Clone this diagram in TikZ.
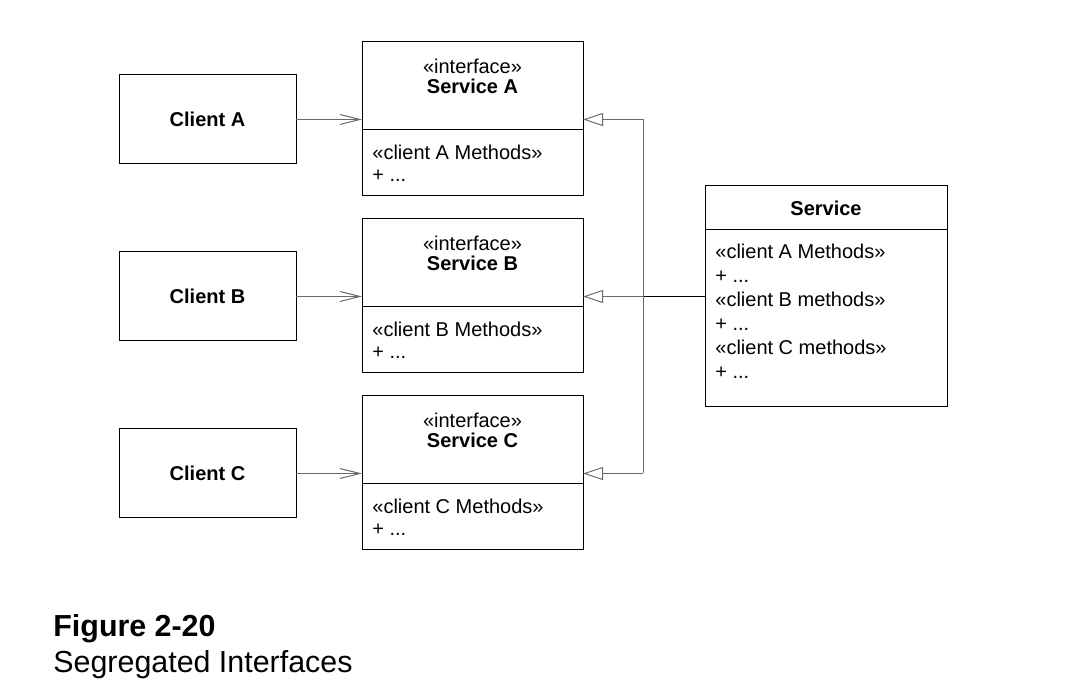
\documentclass[tikz,border=0pt]{standalone}
\usepackage{fontspec}
\setmainfont{Liberation Sans}
\usepackage{tikz}
\usetikzlibrary{positioning,arrows.meta,calc}
\definecolor{linkgray}{RGB}{105,105,105}
\tikzset{
  umlbox/.style={rectangle,draw=black,line width=0.5pt,outer sep=0pt,inner sep=0pt,font=\fontsize{10}{12}\selectfont},
  clientbox/.style={umlbox,minimum width=88.5pt,minimum height=44.5pt,font=\fontsize{10}{12}\selectfont\bfseries},
  headbox/.style={umlbox,minimum width=110.5pt,minimum height=44pt},
  bodybox/.style={umlbox,minimum width=110.5pt,minimum height=33pt},
  stereo/.style={align=center,inner sep=0pt,font=\fontsize{10}{10}\selectfont},
  members/.style={align=left,inner sep=0pt,font=\fontsize{10}{11}\selectfont},
  uses/.style={draw=linkgray,line width=0.5pt,-{Straight Barb[length=10pt,width=5pt]}},
  realizes/.style={draw=linkgray,line width=0.5pt,-{Triangle[open,length=10pt,width=6.5pt,fill=white]}},
  bus/.style={draw=linkgray,line width=0.5pt},
  caption/.style={anchor=base west,inner sep=0pt,font=\fontsize{15.2}{18}\selectfont}
}

\begin{document}
\begin{tikzpicture}[x=0.5pt,y=-0.5pt]
  \useasboundingbox (0,0) rectangle (1084,684);
  % clients
  \node[clientbox,anchor=north west] (clientA) at (119,75) {Client A};
  \node[clientbox,below=44pt of clientA] (clientB) {Client B};
  \node[clientbox,below=44pt of clientB] (clientC) {Client C};
  % segregated interfaces
  \node[headbox,anchor=north west] (ifaceAhead) at (362,42) {};
  \node[bodybox,below=0pt of ifaceAhead] (ifaceAbody) {};
  \node[headbox,below=11.5pt of ifaceAbody] (ifaceBhead) {};
  \node[bodybox,below=0pt of ifaceBhead] (ifaceBbody) {};
  \node[headbox,below=11.5pt of ifaceBbody] (ifaceChead) {};
  \node[bodybox,below=0pt of ifaceChead] (ifaceCbody) {};
  \node[stereo,below=8.2pt of ifaceAhead.north] (ifaceAname) {«interface»\\\textbf{Service A}};
  \node[stereo,below=8.2pt of ifaceBhead.north] (ifaceBname) {«interface»\\\textbf{Service B}};
  \node[stereo,below=8.2pt of ifaceChead.north] (ifaceCname) {«interface»\\\textbf{Service C}};
  \node[members,below right=7.5pt and 5pt of ifaceAbody.north west] (ifaceAops) {«client A Methods»\\+ ...};
  \node[members,below right=7.5pt and 5pt of ifaceBbody.north west] (ifaceBops) {«client B Methods»\\+ ...};
  \node[members,below right=7.5pt and 5pt of ifaceCbody.north west] (ifaceCops) {«client C Methods»\\+ ...};
  % service
  \node[umlbox,anchor=north west,minimum width=121pt,minimum height=22pt,font=\fontsize{10}{12}\selectfont\bfseries] (serviceHead) at (705,186) {Service};
  \node[umlbox,below=0pt of serviceHead,minimum width=121pt,minimum height=88.5pt] (serviceBody) {};
  \node[members,font=\fontsize{10}{12}\selectfont,below right=6.7pt and 5pt of serviceBody.north west] (serviceOps)
    {«client A Methods»\\+ ...\\«client B methods»\\+ ...\\«client C methods»\\+ ...};
  % connectors
  \draw[uses] (clientA.east) -- (clientA.east -| ifaceAhead.west);
  \draw[uses] (clientB.east) -- (clientB.east -| ifaceBhead.west);
  \draw[uses] (clientC.east) -- (clientC.east -| ifaceChead.west);
  \coordinate (busB) at ($(serviceBody.west |- clientB.east)+(-31pt,0)$);
  \draw[bus,draw=black] (serviceBody.west |- busB) -- (busB);
  \draw[bus] (busB |- clientA.east) -- (busB |- clientC.east);
  \draw[realizes] (busB |- clientA.east) -- (clientA.east -| ifaceAhead.east);
  \draw[realizes] (busB) -- (busB -| ifaceBhead.east);
  \draw[realizes] (busB |- clientC.east) -- (clientC.east -| ifaceChead.east);
  % caption
  \node[caption,font=\fontsize{15.2}{18}\selectfont\bfseries] (figno) at (53,637) {Figure 2-20};
  \node[caption] (figtitle) at (53,673) {Segregated Interfaces};
\end{tikzpicture}
\end{document}
